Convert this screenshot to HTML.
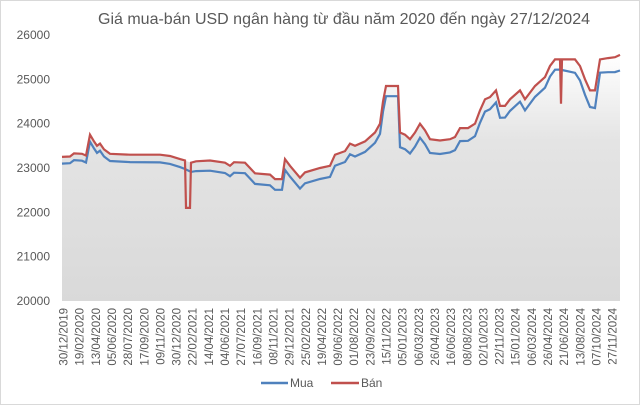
<!DOCTYPE html>
<html><head><meta charset="utf-8"><style>
body{margin:0;background:#fff}
svg{display:block;font-family:"Liberation Sans","DejaVu Sans",sans-serif}
</style></head><body>
<svg id="s" width="640" height="405" xmlns="http://www.w3.org/2000/svg">
<defs><linearGradient id="g" x1="0" y1="0" x2="0" y2="1">
<stop offset="0" stop-color="#ffffff"/><stop offset="0.35" stop-color="#e4e4e4"/><stop offset="1" stop-color="#d9d9d9"/></linearGradient></defs>
<rect x="0.5" y="0.5" width="639" height="404" fill="#fff" stroke="#d9d9d9"/>
<text x="344" y="24" font-size="16" fill="#595959" text-anchor="middle" textLength="492" lengthAdjust="spacingAndGlyphs">Giá mua-bán USD ngân hàng từ đầu năm 2020 đến ngày 27/12/2024</text>
<g id="yl" font-size="12" fill="#595959" text-anchor="end"></g>
<path id="area" fill="url(#g)"/>
<path id="mua" fill="none" stroke="#4f81bd" stroke-width="2.2"/>
<path id="ban" fill="none" stroke="#c0504d" stroke-width="2.2"/>
<g id="xl" font-size="11.5" fill="#595959"></g>
<line x1="261" y1="383" x2="288" y2="383" stroke="#4f81bd" stroke-width="2.5"/>
<text x="290" y="387" font-size="12" fill="#595959">Mua</text>
<line x1="331" y1="383" x2="359" y2="383" stroke="#c0504d" stroke-width="2.5"/>
<text x="361" y="387" font-size="12" fill="#595959">Bán</text>
</svg>
<script>
const Y=v=>35+(26000-v)*0.04433;
const ns="http://www.w3.org/2000/svg";
let yl=document.getElementById('yl');
for(let v=20000;v<=26000;v+=1000){let t=document.createElementNS(ns,'text');t.setAttribute('x',50);t.setAttribute('y',Y(v)+4);t.textContent=v;yl.appendChild(t);}
const B=[[62,23250],[70,23260],[74,23330],[82,23320],[86,23280],[90,23750],[94,23600],[97,23500],[100,23550],[104,23420],[110,23320],[130,23300],[160,23300],[170,23270],[180,23200],[185,23170],[186,22100,1],[190,22100,1],[191,23120],[196,23150],[210,23170],[225,23120],[230,23050],[234,23130],[245,23120],[250,23000],[255,22880],[270,22850],[275,22750],[282,22750],[285,23200],[290,23050],[300,22780],[305,22900],[320,23000],[330,23050],[335,23300],[345,23380],[350,23550],[355,23500],[365,23600],[375,23800],[380,24000],[383,24500],[386,24850],[398,24850],[400,23800],[405,23750],[410,23650],[415,23800],[420,24000],[425,23850],[430,23650],[440,23620],[450,23650],[455,23700],[460,23900],[468,23900],[475,24000],[480,24300],[485,24550],[490,24600],[496,24750],[500,24400],[505,24400],[510,24550],[520,24750],[525,24550],[535,24850],[545,25050],[550,25300],[555,25450],[560,25450],[561,24450,1],[562,25450],[575,25450],[580,25300],[585,25000],[590,24750],[595,24750],[600,25450],[608,25480],[615,25500],[620,25550]];
const OFF=[[62,150],[180,180],[200,230],[330,250],[380,230],[398,230],[400,330],[560,230],[585,350],[595,400],[600,300],[620,350]];
function off(x){for(let i=1;i<OFF.length;i++){if(x<=OFF[i][0]){let a=OFF[i-1],b=OFF[i];return a[1]+(b[1]-a[1])*(x-a[0])/(b[0]-a[0]);}}return 350;}
let bd='',md='';
B.forEach((p,i)=>{bd+=(i?'L':'M')+p[0]+' '+Y(p[1]).toFixed(1);});
let first=true;B.forEach(p=>{if(p[2])return;md+=(first?'M':'L')+p[0]+' '+Y(p[1]-off(p[0])).toFixed(1);first=false;});
document.getElementById('ban').setAttribute('d',bd);
document.getElementById('mua').setAttribute('d',md);
document.getElementById('area').setAttribute('d',bd.replace(/L186 [\d.]+L190 [\d.]+/,'').replace(/L561 [\d.]+/,'')+'L620 '+Y(20000)+'L62 '+Y(20000)+'Z');
const L="30/12/2019 19/02/2020 13/04/2020 05/06/2020 28/07/2020 17/09/2020 09/11/2020 30/12/2020 22/02/2021 14/04/2021 04/06/2021 27/07/2021 16/09/2021 08/11/2021 29/12/2021 25/02/2022 19/04/2022 09/06/2022 01/08/2022 23/09/2022 15/11/2022 05/01/2023 06/03/2023 26/04/2023 16/06/2023 08/08/2023 02/10/2023 22/11/2023 15/01/2024 06/03/2024 26/04/2024 21/06/2024 13/08/2024 07/10/2024 27/11/2024".split(' ');
let xl=document.getElementById('xl');
L.forEach((s,i)=>{let x=67.5+i*16.15;let t=document.createElementNS(ns,'text');t.setAttribute('transform','translate('+x+',308) rotate(-90)');t.setAttribute('text-anchor','end');t.textContent=s;xl.appendChild(t);});
</script>
</body></html>
